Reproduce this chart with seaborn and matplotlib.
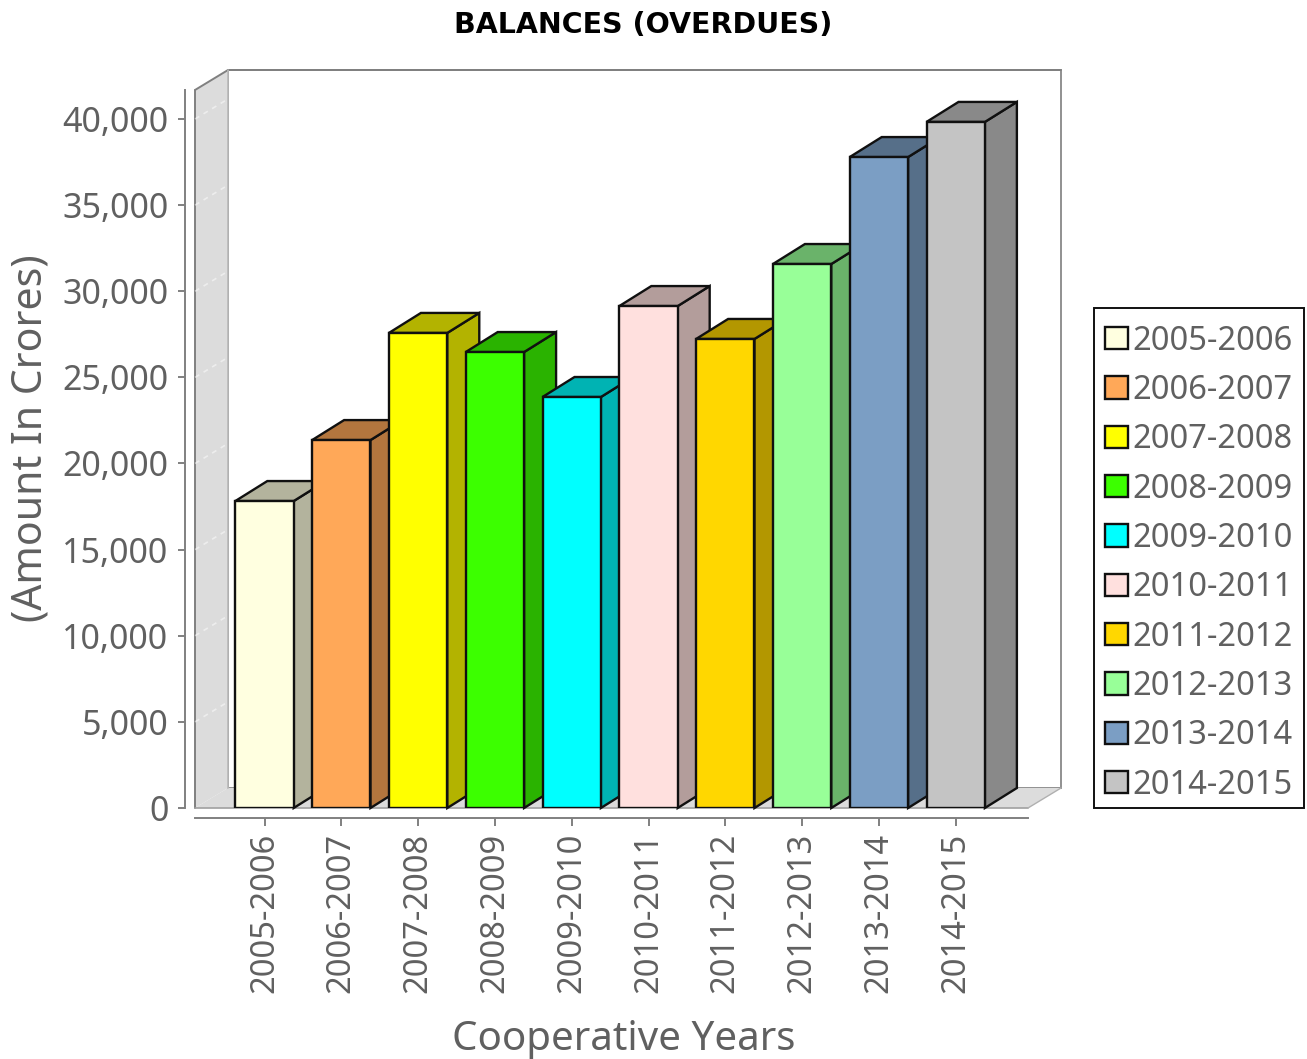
import matplotlib
matplotlib.use('Agg')
import matplotlib.pyplot as plt
from matplotlib.patches import Polygon, Patch
from matplotlib.ticker import FuncFormatter, FixedLocator
import pandas as pd
import seaborn as sns

sns.set_theme(style='white')
plt.rcParams['font.family'] = ['Noto Sans', 'DejaVu Sans']

years = ['2005-2006', '2006-2007', '2007-2008', '2008-2009', '2009-2010',
         '2010-2011', '2011-2012', '2012-2013', '2013-2014', '2014-2015']
overdues = [17820, 21360, 27580, 26470, 23860, 29140, 27230, 31580, 37790, 39830]
colors = ['#FFFFE0', '#FFA858', '#FFFF00', '#3CFF00', '#00FFFF',
          '#FFE0DE', '#FFD700', '#98FF98', '#7B9EC4', '#C4C4C4']
y_ticks = [0, 5000, 10000, 15000, 20000, 25000, 30000, 35000, 40000]

W, H = 1307, 1059
GREY_TEXT = '#606060'
AXIS_GREY = '#808080'
EDGE = '#101010'

fig = plt.figure(figsize=(W / 100, H / 100), dpi=100)
# plot area in pixels of the image
left, right, top, bottom = 195, 1028, 90, 808
ax = fig.add_axes([left / W, 1 - bottom / H, (right - left) / W, (bottom - top) / H])

df = pd.DataFrame({'year': years, 'overdues': overdues})
sns.barplot(data=df, x='year', y='overdues', hue='year', palette=colors, dodge=False,
            width=0.76, edgecolor=EDGE, linewidth=1.7, saturation=1, ax=ax)
bars = list(ax.patches)

px_per_cat = 76.8
px_per_unit = 689 / 40000
ymax = (bottom - top) / px_per_unit
ax.set_xlim((left - 264.5) / px_per_cat, (right - 264.5) / px_per_cat)
ax.set_ylim(0, ymax)

# depth of the fake 3d box, in data units
dx = 33 / px_per_cat
dy = 20 / px_per_unit
x0, x1 = ax.get_xlim()

# back wall, floor and left wall
ax.add_patch(Polygon([(x0 + dx, dy), (x1 + dx, dy), (x1 + dx, ymax + dy), (x0 + dx, ymax + dy)],
                     fc='white', ec='#909090', lw=1.4, clip_on=False, zorder=0.5))
ax.add_patch(Polygon([(x0, 0), (x1, 0), (x1 + dx, dy), (x0 + dx, dy)],
                     fc='#DCDCDC', ec='none', clip_on=False, zorder=0.6))
ax.add_patch(Polygon([(x0, 0), (x0 + dx, dy), (x0 + dx, ymax + dy), (x0, ymax)],
                     fc='#DCDCDC', ec='none', clip_on=False, zorder=0.7))
ax.plot([x0, x0 + dx, x1 + dx], [ymax, ymax + dy, ymax + dy], color='#808080', lw=1.4,
        clip_on=False, zorder=0.8)
ax.plot([x0, x0], [0, ymax], color='#808080', lw=1.4, clip_on=False, zorder=0.8)
ax.plot([x0 + dx, x0 + dx], [dy, ymax + dy], color='#B8B8B8', lw=1.2, clip_on=False, zorder=0.8)
ax.plot([x0, x1], [0, 0], color='#A0A0A0', lw=1.2, clip_on=False, zorder=0.8)
ax.plot([x1, x1 + dx], [0, dy], color='#B0B0B0', lw=1.0, clip_on=False, zorder=0.8)
for t in y_ticks[1:]:
    ax.plot([x0, x0 + dx], [t, t + dy], color='white', lw=1.2, ls=(0, (3, 3)), alpha=0.5,
            clip_on=False, zorder=0.9)

# side and top faces come from the bars seaborn drew
bar_dx = 32 / px_per_cat
for i, bar in enumerate(bars):
    bx, bw, bh = bar.get_x(), bar.get_width(), bar.get_height()
    r, g, b, _ = bar.get_facecolor()
    dark = (r * 0.7, g * 0.7, b * 0.7)
    z = 2 + i
    ax.add_patch(Polygon([(bx + bw, 0), (bx + bw + bar_dx, dy), (bx + bw + bar_dx, bh + dy), (bx + bw, bh)],
                         fc=dark, ec=EDGE, lw=1.7, clip_on=False, zorder=z))
    ax.add_patch(Polygon([(bx, bh), (bx + bw, bh), (bx + bw + bar_dx, bh + dy), (bx + bar_dx, bh + dy)],
                         fc=dark, ec=EDGE, lw=1.7, clip_on=False, zorder=z))
    bar.set_zorder(z + 0.5)

sns.despine(ax=ax, top=True, right=True)
ax.spines['left'].set_position(('outward', 7.2))
ax.spines['bottom'].set_position(('outward', 7.2))
for side in ['left', 'bottom']:
    ax.spines[side].set_color(AXIS_GREY)
    ax.spines[side].set_linewidth(1.4)

ax.yaxis.set_major_locator(FixedLocator(y_ticks))
ax.yaxis.set_major_formatter(FuncFormatter(lambda v, _: f'{v:,.0f}'))
ax.tick_params(axis='y', left=True, length=5, width=1.4, color=AXIS_GREY, labelcolor=GREY_TEXT,
               labelsize=24.5, pad=7)
ax.tick_params(axis='x', bottom=True, length=5.5, width=1.4, color=AXIS_GREY, labelcolor=GREY_TEXT,
               labelsize=23.5, labelrotation=90, pad=5)

ax.set_xlabel('Cooperative Years', fontsize=29, color=GREY_TEXT)
ax.set_ylabel('(Amount In Crores)', fontsize=29.5, color=GREY_TEXT)
ax.xaxis.set_label_coords(624 / W, 1 - 1040 / H, transform=fig.transFigure)
ax.yaxis.set_label_coords(31 / W, 1 - 438 / H, transform=fig.transFigure)
ax.xaxis.label.set_va('center')
ax.yaxis.label.set_va('center')

fig.text(643 / W, 1 - 25 / H, 'BALANCES (OVERDUES)', fontsize=20.5, fontweight='bold',
         family='DejaVu Sans', color='black', ha='center', va='center')

handles = [Patch(facecolor=bar.get_facecolor(), edgecolor=EDGE, linewidth=1.7) for bar in bars]
leg = ax.legend(handles, years, loc='lower left', bbox_to_anchor=(1094 / W, 1 - 808 / H),
                bbox_transform=fig.transFigure, fontsize=23.5, labelcolor=GREY_TEXT,
                frameon=True, fancybox=False, framealpha=1, edgecolor=EDGE,
                handlelength=0.68, handleheight=0.68, handletextpad=0.15, labelspacing=0.5,
                borderpad=0.35, borderaxespad=0)
leg.get_frame().set_linewidth(1.4)
leg.set_zorder(50)
# rows sit a little low inside the box in the original
for txt, hnd in zip(leg.get_texts(), leg.legend_handles):
    txt.set_y(-5)
    hnd.set_y(hnd.get_y() - 3.6)

fig.savefig('out.png', dpi=100)
